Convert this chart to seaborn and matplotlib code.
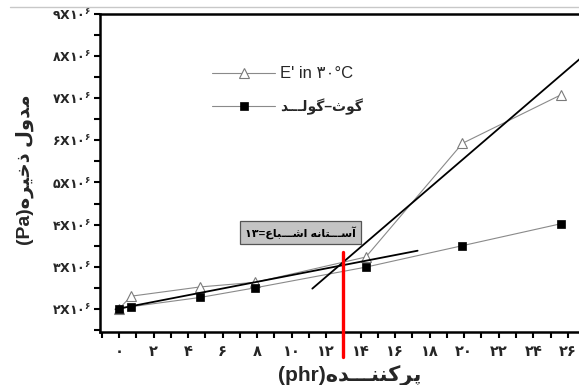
import matplotlib
matplotlib.use("Agg")
import matplotlib.pyplot as plt
from matplotlib.lines import Line2D
from matplotlib.ticker import FixedLocator, MultipleLocator, FixedFormatter
import seaborn as sns

# ---------------- data ----------------
phr = [0, 0.7, 4.7, 7.9, 14.3, 19.9, 25.6]                           # filler content (phr)
storage_modulus = [2.0e6, 2.3e6, 2.52e6, 2.63e6, 3.23e6, 5.93e6, 7.08e6]  # E' at 30 °C (Pa)
gough_gold = [2.0e6, 2.05e6, 2.27e6, 2.5e6, 2.99e6, 3.5e6, 4.02e6]        # Gough-Gold model (Pa)

# tangent lines below and above the saturation point
low_fit_x = [-0.2, 17.3]
low_fit_y = [1.99e6, 3.38e6]
high_fit_x = [11.2, 27.0]
high_fit_y = [2.48e6, 8.04e6]

saturation_threshold = 13

x_ticks = list(range(0, 27, 2))
y_ticks = [2e6, 3e6, 4e6, 5e6, 6e6, 7e6, 8e6, 9e6]

# ---------------- Persian text helpers ----------------
FA_DIGITS = str.maketrans("0123456789", "۰۱۲۳۴۵۶۷۸۹")

# (isolated, final, initial, medial)
FORMS = {
    "آ": ("\uFE81", "\uFE82", None, None),
    "ا": ("\uFE8D", "\uFE8E", None, None),
    "ب": ("\uFE8F", "\uFE90", "\uFE91", "\uFE92"),
    "پ": ("\uFB56", "\uFB57", "\uFB58", "\uFB59"),
    "ت": ("\uFE95", "\uFE96", "\uFE97", "\uFE98"),
    "ث": ("\uFE99", "\uFE9A", "\uFE9B", "\uFE9C"),
    "خ": ("\uFEA5", "\uFEA6", "\uFEA7", "\uFEA8"),
    "د": ("\uFEA9", "\uFEAA", None, None),
    "ذ": ("\uFEAB", "\uFEAC", None, None),
    "ر": ("\uFEAD", "\uFEAE", None, None),
    "س": ("\uFEB1", "\uFEB2", "\uFEB3", "\uFEB4"),
    "ش": ("\uFEB5", "\uFEB6", "\uFEB7", "\uFEB8"),
    "ع": ("\uFEC9", "\uFECA", "\uFECB", "\uFECC"),
    "ک": ("\uFB8E", "\uFB8F", "\uFB90", "\uFB91"),
    "گ": ("\uFB92", "\uFB93", "\uFB94", "\uFB95"),
    "ل": ("\uFEDD", "\uFEDE", "\uFEDF", "\uFEE0"),
    "م": ("\uFEE1", "\uFEE2", "\uFEE3", "\uFEE4"),
    "ن": ("\uFEE5", "\uFEE6", "\uFEE7", "\uFEE8"),
    "ه": ("\uFEE9", "\uFEEA", "\uFEEB", "\uFEEC"),
    "و": ("\uFEED", "\uFEEE", None, None),
    "ی": ("\uFBFC", "\uFBFD", "\uFBFE", "\uFBFF"),
    "ـ": ("ـ", "ـ", "ـ", "ـ"),
}


def shape(text):
    """Pick contextual letter forms so the Persian letters join."""
    out = []
    for i, ch in enumerate(text):
        forms = FORMS.get(ch)
        if forms is None:
            out.append(ch)
            continue
        prev = text[i - 1] if i > 0 else ""
        nxt = text[i + 1] if i + 1 < len(text) else ""
        join_prev = prev in FORMS and FORMS[prev][2] is not None
        join_next = forms[2] is not None and nxt in FORMS
        if join_prev and join_next:
            out.append(forms[3])
        elif join_prev:
            out.append(forms[1])
        elif join_next:
            out.append(forms[2])
        else:
            out.append(forms[0])
    return "".join(out)


def rtl(text):
    return shape(text)[::-1]


def fa(n):
    return str(n).translate(FA_DIGITS)


# ---------------- style ----------------
sns.set_style("ticks")
plt.rcParams["font.family"] = ["Liberation Sans", "DejaVu Sans"]
plt.rcParams["mathtext.fontset"] = "dejavusans"
plt.rcParams["mathtext.default"] = "bf"

fig = plt.figure(figsize=(5.79, 3.85), dpi=100)
ax = fig.add_axes([100 / 579, 1 - 332 / 385, 479 / 579, 318 / 385])

# thin frame line across the top of the page
fig.add_artist(Line2D([10 / 579, 1.0], [1 - 7 / 385, 1 - 7 / 385],
                      color="#c8c8c8", lw=1.0, transform=fig.transFigure))

line_grey = "#8a8a8a"
sns.lineplot(x=phr, y=storage_modulus, ax=ax, color=line_grey, lw=0.8,
             marker="^", markersize=7, markerfacecolor="white",
             markeredgecolor="#7a7a7a", markeredgewidth=0.8,
             label="E' in " + fa(30) + "°C", zorder=3)
sns.lineplot(x=phr, y=gough_gold, ax=ax, color=line_grey, lw=0.8,
             marker="s", markersize=5.5, markerfacecolor="black",
             markeredgecolor="black", markeredgewidth=0.5,
             label=rtl("گوث–گولـــد"), zorder=4)

ax.plot(low_fit_x, low_fit_y, color="black", lw=1.3, zorder=5)
ax.plot(high_fit_x, high_fit_y, color="black", lw=1.3, zorder=5)

ax.set_xlim(-1.1, 26.65)
ax.set_ylim(1.45e6, 9.0e6)

ax.axvline(saturation_threshold, ymin=-0.078, ymax=0.253, color="#ff0000",
           lw=2.4, clip_on=False, zorder=6)

ax.text(10.5, 3.82e6, fa(saturation_threshold) + "=" + rtl("آســـتانه اشـــباع"),
        ha="center", va="center", fontsize=8, fontweight="bold", color="black",
        bbox=dict(boxstyle="square,pad=0.45", fc="#c4c4c4", ec="#555555", lw=0.9),
        zorder=7)

# ---------------- axes ----------------
ax.xaxis.set_major_locator(FixedLocator(x_ticks))
ax.xaxis.set_major_formatter(FixedFormatter([fa(v) for v in x_ticks]))
ax.xaxis.set_minor_locator(MultipleLocator(1))
ax.yaxis.set_major_locator(FixedLocator(y_ticks))
ax.yaxis.set_major_formatter(FixedFormatter(
    [fa(int(v / 1e6)) + "X" + fa(10) + r"$^{" + fa(6) + "}$" for v in y_ticks]))
ax.yaxis.set_minor_locator(MultipleLocator(0.5e6))

for side in ("left", "bottom", "top"):
    ax.spines[side].set_linewidth(1.8)
    ax.spines[side].set_color("black")
ax.spines["right"].set_visible(False)

ax.tick_params(axis="both", which="both", direction="out", width=1.5,
               color="black", top=False, right=False)
ax.tick_params(axis="both", which="major", length=4.5)
ax.tick_params(axis="both", which="minor", length=4)
ax.tick_params(axis="x", which="major", labelsize=10.5, pad=5)
ax.tick_params(axis="y", which="major", labelsize=9, pad=2)
for lab in ax.get_xticklabels() + ax.get_yticklabels():
    lab.set_fontweight("bold")
for lab in ax.get_yticklabels():
    lab.set_fontfamily("DejaVu Sans")

fig.text(350 / 579, 1 - 376 / 385, "(phr)" + rtl("پرکننـــده"),
         ha="center", va="center", fontsize=15, fontweight="bold")
fig.text(25 / 579, 1 - 170 / 385, "(Pa)" + rtl("مدول ذخیره"),
         ha="center", va="center", rotation=90, fontsize=14, fontweight="bold")

# ---------------- legend ----------------
leg = ax.legend(loc="upper left", bbox_to_anchor=(0.234, 0.835), frameon=False,
                handlelength=3.8, handletextpad=0.3, labelspacing=1.05,
                borderaxespad=0, borderpad=0, fontsize=12)
leg.get_texts()[1].set_fontsize(10)
leg.get_texts()[1].set_fontweight("bold")

fig.savefig("out.png", dpi=100)
